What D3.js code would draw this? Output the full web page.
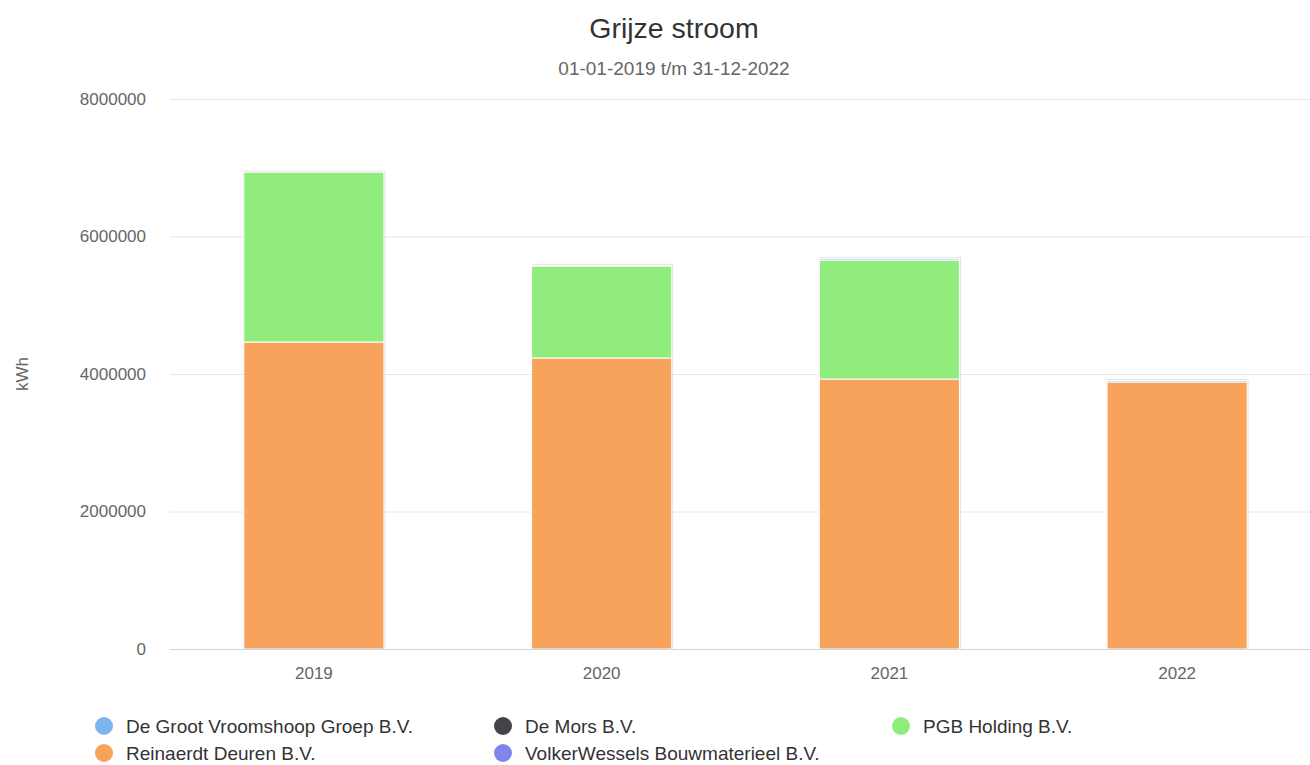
<!DOCTYPE html>
<html><head><meta charset="utf-8">
<script src="https://cdn.jsdelivr.net/npm/d3@7"></script>
<style>body{margin:0;background:#fff;font-family:"Liberation Sans",Arial,Helvetica,sans-serif}</style>
</head><body><svg id="c" width="1310" height="765"></svg>
<script>
const categories = ["2019","2020","2021","2022"];
const seriesNames = ["De Groot Vroomshoop Groep B.V.","De Mors B.V.","PGB Holding B.V.","Reinaerdt Deuren B.V.","VolkerWessels Bouwmaterieel B.V."];
const seriesColors = ["#7cb5ec","#434348","#90ed7d","#f7a35c","#8085e9"];
const deGroot = [0, 10000, 20000, 20000];
const deMors = [0, 0, 0, 0];
const pgb = [2470000, 1338000, 1730000, 0];
const reinaerdt = [4465000, 4233000, 3927000, 3884000];
const volker = [0, 0, 0, 0];
const yTicks = [0, 2000000, 4000000, 6000000, 8000000];
const title = "Grijze stroom";
const subtitle = "01-01-2019 t/m 31-12-2022";
const yTitle = "kWh";

(function(){
const values = [deGroot, deMors, pgb, reinaerdt, volker];
const stackOrder = [4,3,2,1,0];
const rows = categories.map((c,i)=>{const o={cat:c}; seriesNames.forEach((n,j)=>o[n]=values[j][i]); return o;});
const stack = d3.stack().keys(stackOrder.map(j=>seriesNames[j]))(rows);

const svg = d3.select("#c");
const pl=170, pr=1321, pt=99, pb=649;
const x = d3.scaleBand().domain(categories).range([pl,pr]).paddingInner(0.513).paddingOuter(0.2565);
const y = d3.scaleLinear().domain([0,8000000]).range([pb,pt]);

svg.append("text").attr("x",674).attr("y",38).attr("text-anchor","middle").attr("font-size",28.5).attr("fill","#333").text(title);
svg.append("text").attr("x",674).attr("y",75).attr("text-anchor","middle").attr("font-size",19).attr("fill","#666").text(subtitle);

const ga = svg.append("g").attr("transform",`translate(${pl},0)`)
  .call(d3.axisLeft(y).tickValues(yTicks).tickSize(-(pr-pl)).tickFormat(d3.format("d")).tickPadding(24));
ga.select(".domain").remove();
ga.selectAll(".tick line").attr("stroke","#e6e6e6");
ga.selectAll(".tick text").attr("fill","#666").attr("font-size",17).attr("font-family","Liberation Sans, Arial").attr("dy","0.32em");
ga.selectAll(".tick").filter(d=>d===0).select("line").attr("stroke","#ccd6eb");

svg.append("text").attr("transform","translate(28,374) rotate(-90)").attr("text-anchor","middle").attr("font-size",17).attr("fill","#666").text(yTitle);

const totals = rows.map((r,i)=>d3.sum(values,v=>v[i]));
svg.append("g").selectAll("rect").data(categories).join("rect")
  .attr("x",d=>x(d)-0.5).attr("width",x.bandwidth()+2)
  .attr("y",(d,i)=>y(totals[i])-1.5).attr("height",(d,i)=>y(0)-y(totals[i])+1.5)
  .attr("fill","#e3e3e3");

svg.append("g").selectAll("g").data(stack).join("g")
  .attr("fill",s=>seriesColors[seriesNames.indexOf(s.key)])
  .selectAll("rect").data(s=>s).join("rect")
  .attr("x",d=>x(d.data.cat)).attr("width",x.bandwidth())
  .attr("y",d=>y(d[1])).attr("height",d=>Math.max(0,y(d[0])-y(d[1])))
  .attr("stroke","#fff").attr("stroke-width",1);

const xa = svg.append("g").attr("transform",`translate(0,${pb})`).call(d3.axisBottom(x).tickSize(0).tickPadding(18));
xa.select(".domain").attr("stroke","#ccd6eb").attr("d",`M${pl},0.5H1310`);
xa.selectAll(".tick text").attr("fill","#666").attr("font-size",17).attr("font-family","Liberation Sans, Arial");

const legPos = [[104,726],[503,726],[901,726],[104,753],[503,753]];
const lg = svg.append("g").selectAll("g").data(seriesNames).join("g")
  .attr("transform",(d,i)=>`translate(${legPos[i][0]},${legPos[i][1]})`);
lg.append("circle").attr("r",9).attr("fill",(d,i)=>seriesColors[i]);
lg.append("text").attr("x",22).attr("dy","0.35em").attr("font-size",19).attr("fill","#333").text(d=>d);
})();
</script></body></html>
